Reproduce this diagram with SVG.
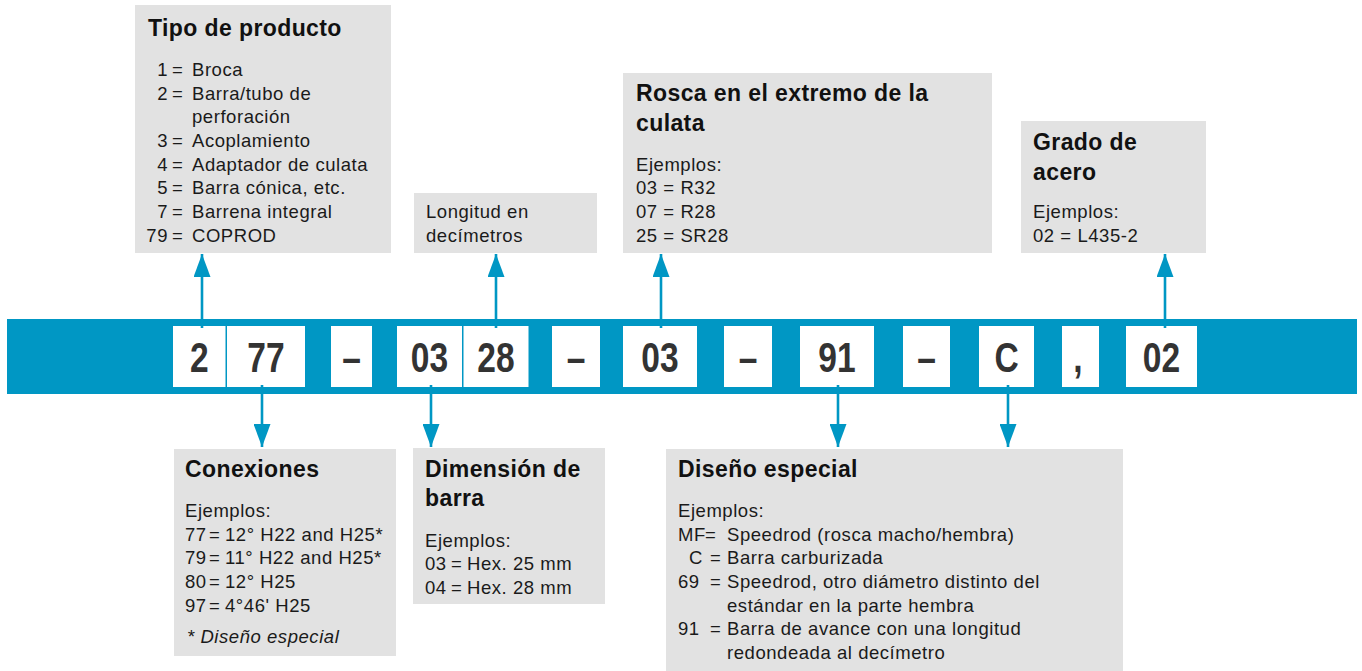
<svg xmlns="http://www.w3.org/2000/svg" width="1362" height="671" viewBox="0 0 1362 671">
<defs>
<style>
.box{fill:#e2e2e2}
.cell{fill:#ffffff}
.band{fill:#0097c4}
.t{font-family:"Liberation Sans",Arial,Helvetica,sans-serif;font-size:23px;font-weight:bold;letter-spacing:0.4px;fill:#111}
.b{font-family:"Liberation Sans",Arial,Helvetica,sans-serif;font-size:18.5px;letter-spacing:0.55px;fill:#1a1a1a}
.i{font-style:italic}
.e{text-anchor:end}
.d{font-family:"Liberation Sans",Arial,Helvetica,sans-serif;font-size:43px;font-weight:bold;fill:#333;text-anchor:middle}
.c{stroke:#0097c4;stroke-width:2.6;fill:none;marker-end:url(#ah)}
</style>
<marker id="ah" markerUnits="userSpaceOnUse" markerWidth="23" markerHeight="17" refX="23" refY="8.5" orient="auto">
<path d="M0,0 L23,8.5 L0,17 Z" fill="#0097c4"/>
</marker>
</defs>
<rect width="1362" height="671" fill="#ffffff"/>

<g id="band">
<rect class="band" x="7" y="319" width="1350" height="75"/>
</g>

<g id="code">
<g id="c-2"><rect class="cell" x="173" y="326" width="52.5" height="61"/><text class="d" transform="translate(199.3,372) scale(0.78,1)">2</text></g>
<g id="c-77"><rect class="cell" x="227" y="326" width="78" height="61"/><text class="d" transform="translate(266,372) scale(0.78,1)">77</text></g>
<g id="c-dash1"><rect class="cell" x="331" y="326" width="41" height="61"/><text class="d" transform="translate(351.5,372) scale(0.78,1)">–</text></g>
<g id="c-03a"><rect class="cell" x="397" y="326" width="65" height="61"/><text class="d" transform="translate(429.5,372) scale(0.78,1)">03</text></g>
<g id="c-28"><rect class="cell" x="463.5" y="326" width="65" height="61"/><text class="d" transform="translate(496,372) scale(0.78,1)">28</text></g>
<g id="c-dash2"><rect class="cell" x="552" y="326" width="48" height="61"/><text class="d" transform="translate(576,372) scale(0.78,1)">–</text></g>
<g id="c-03b"><rect class="cell" x="623" y="326" width="74" height="61"/><text class="d" transform="translate(660,372) scale(0.78,1)">03</text></g>
<g id="c-dash3"><rect class="cell" x="724" y="326" width="48" height="61"/><text class="d" transform="translate(748,372) scale(0.78,1)">–</text></g>
<g id="c-91"><rect class="cell" x="800" y="326" width="74" height="61"/><text class="d" transform="translate(837,372) scale(0.78,1)">91</text></g>
<g id="c-dash4"><rect class="cell" x="903" y="326" width="47" height="61"/><text class="d" transform="translate(926.5,372) scale(0.78,1)">–</text></g>
<g id="c-C"><rect class="cell" x="979" y="326" width="55" height="61"/><text class="d" transform="translate(1006.5,372) scale(0.78,1)">C</text></g>
<g id="c-comma"><rect class="cell" x="1062" y="326" width="37" height="61"/><text class="d" transform="translate(1078,372) scale(0.78,1)">,</text></g>
<g id="c-02"><rect class="cell" x="1126" y="326" width="71" height="61"/><text class="d" transform="translate(1161.5,372) scale(0.78,1)">02</text></g>
</g>

<g id="tipo">
<rect class="box" x="135" y="5" width="256" height="248"/>
<text class="t" x="148" y="36">Tipo de producto</text>
<text class="b e" x="168" y="76">1</text><text class="b" x="172" y="76">=</text><text class="b" x="192" y="76">Broca</text>
<text class="b e" x="168" y="99.6">2</text><text class="b" x="172" y="99.6">=</text><text class="b" x="192" y="99.6">Barra/tubo de</text>
<text class="b" x="192" y="123.3">perforación</text>
<text class="b e" x="168" y="147">3</text><text class="b" x="172" y="147">=</text><text class="b" x="192" y="147">Acoplamiento</text>
<text class="b e" x="168" y="170.7">4</text><text class="b" x="172" y="170.7">=</text><text class="b" x="192" y="170.7">Adaptador de culata</text>
<text class="b e" x="168" y="194.4">5</text><text class="b" x="172" y="194.4">=</text><text class="b" x="192" y="194.4">Barra cónica, etc.</text>
<text class="b e" x="168" y="218">7</text><text class="b" x="172" y="218">=</text><text class="b" x="192" y="218">Barrena integral</text>
<text class="b e" x="168" y="241.8">79</text><text class="b" x="172" y="241.8">=</text><text class="b" x="192" y="241.8">COPROD</text>
</g>

<g id="longitud">
<rect class="box" x="414" y="193" width="183" height="60"/>
<text class="b" x="426" y="217.5">Longitud en</text>
<text class="b" x="426" y="242">decímetros</text>
</g>

<g id="rosca">
<rect class="box" x="623" y="73" width="369" height="180"/>
<text class="t" x="636" y="101">Rosca en el extremo de la</text>
<text class="t" x="636" y="131">culata</text>
<text class="b" x="636" y="170.5">Ejemplos:</text>
<text class="b" x="636" y="194.2">03 = R32</text>
<text class="b" x="636" y="218">07 = R28</text>
<text class="b" x="636" y="241.7">25 = SR28</text>
</g>

<g id="grado">
<rect class="box" x="1021" y="121" width="185" height="132"/>
<text class="t" x="1033" y="150">Grado de</text>
<text class="t" x="1033" y="180">acero</text>
<text class="b" x="1033" y="218">Ejemplos:</text>
<text class="b" x="1033" y="241.7">02 = L435-2</text>
</g>

<g id="conexiones">
<rect class="box" x="174" y="449" width="222" height="207"/>
<text class="t" x="185" y="477">Conexiones</text>
<text class="b" x="185" y="517">Ejemplos:</text>
<text class="b" x="185" y="540.7">77</text><text class="b" x="209" y="540.7">=</text><text class="b" x="225" y="540.7">12° H22 and H25*</text>
<text class="b" x="185" y="564.4">79</text><text class="b" x="209" y="564.4">=</text><text class="b" x="225" y="564.4">11° H22 and H25*</text>
<text class="b" x="185" y="588">80</text><text class="b" x="209" y="588">=</text><text class="b" x="225" y="588">12° H25</text>
<text class="b" x="185" y="611.8">97</text><text class="b" x="209" y="611.8">=</text><text class="b" x="225" y="611.8">4°46' H25</text>
<text class="b i" x="187" y="643.3">* Diseño especial</text>
</g>

<g id="dimension">
<rect class="box" x="413" y="448" width="192" height="156"/>
<text class="t" x="425" y="477">Dimensión de</text>
<text class="t" x="425" y="506">barra</text>
<text class="b" x="425" y="546.5">Ejemplos:</text>
<text class="b" x="425" y="570.2">03</text><text class="b" x="451" y="570.2">=</text><text class="b" x="467" y="570.2">Hex. 25 mm</text>
<text class="b" x="425" y="594">04</text><text class="b" x="451" y="594">=</text><text class="b" x="467" y="594">Hex. 28 mm</text>
</g>

<g id="diseno">
<rect class="box" x="666" y="449" width="457" height="222"/>
<text class="t" x="678" y="477.3">Diseño especial</text>
<text class="b" x="678" y="517.3">Ejemplos:</text>
<text class="b" x="678" y="540.7">MF</text><text class="b" x="705" y="540.7">=</text><text class="b" x="727" y="540.7">Speedrod (rosca macho/hembra)</text>
<text class="b" x="689" y="564.3">C</text><text class="b" x="710" y="564.3">=</text><text class="b" x="727" y="564.3">Barra carburizada</text>
<text class="b" x="678" y="587.9">69</text><text class="b" x="710" y="587.9">=</text><text class="b" x="727" y="587.9">Speedrod, otro diámetro distinto del</text>
<text class="b" x="727" y="611.6">estándar en la parte hembra</text>
<text class="b" x="678" y="635">91</text><text class="b" x="710" y="635">=</text><text class="b" x="727" y="635">Barra de avance con una longitud</text>
<text class="b" x="727" y="658.5">redondeada al decímetro</text>
</g>

<g id="connectors">
<line class="c" x1="202" y1="328" x2="202" y2="254"/>
<line class="c" x1="496" y1="328" x2="496" y2="254"/>
<line class="c" x1="661" y1="328" x2="661" y2="254"/>
<line class="c" x1="1165" y1="328" x2="1165" y2="254"/>
<line class="c" x1="262" y1="385" x2="262" y2="447"/>
<line class="c" x1="431" y1="385" x2="431" y2="447"/>
<line class="c" x1="838" y1="385" x2="838" y2="447"/>
<line class="c" x1="1008" y1="385" x2="1008" y2="447"/>
</g>
</svg>
